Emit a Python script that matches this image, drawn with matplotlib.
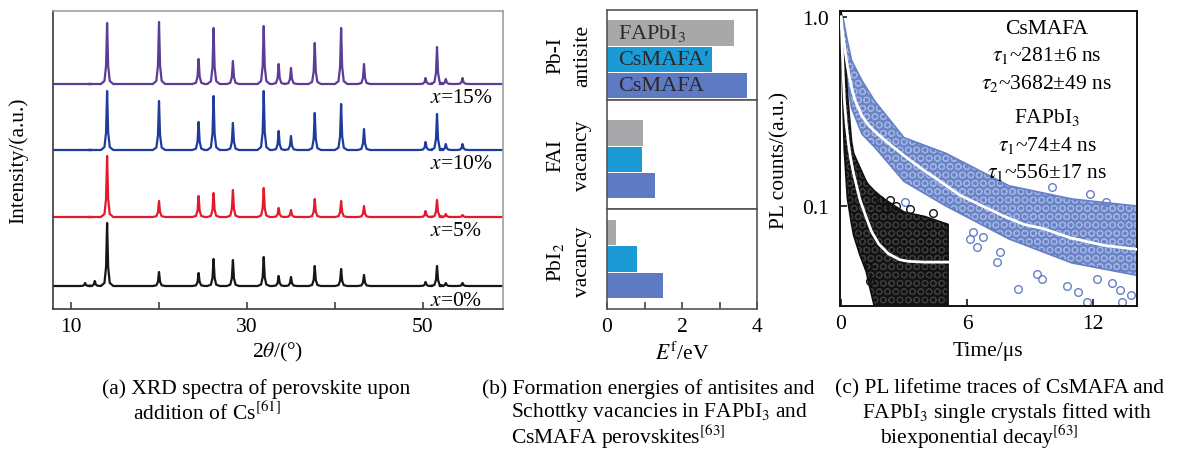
import numpy as np
import matplotlib
matplotlib.use("Agg")
import matplotlib.pyplot as plt
from matplotlib.ticker import FixedLocator, NullLocator, NullFormatter

plt.rcParams['font.family'] = ['Liberation Serif', 'DejaVu Serif']
plt.rcParams['mathtext.fontset'] = 'stix'
plt.rcParams['hatch.linewidth'] = 0.8

# ======================= DATA =======================
# (a) XRD spectra: peak positions (2theta) and peak heights per Cs content
xrd_peaks = [11.6, 12.7, 14.1, 20.0, 24.5, 26.2, 28.4, 31.9, 33.6, 35.0,
             37.7, 40.7, 43.3, 50.3, 51.6, 52.6, 54.5]
xrd_h_0 = [3, 5, 63, 14, 13, 27, 26, 29, 10, 9, 20, 17, 11, 4, 20, 3, 3]
xrd_h_5 = [0, 0, 61, 16, 21, 24, 27, 29, 9, 7, 18, 16, 11, 6, 17, 3, 2]
xrd_h_10 = [0, 0, 59, 49, 28, 54, 27, 59, 19, 14, 37, 46, 21, 8, 36, 6, 6]
xrd_h_15 = [0, 0, 61, 62, 25, 56, 23, 58, 20, 16, 41, 56, 20, 6, 37, 5, 6]
xrd_offsets = [23, 92, 159, 225]
xrd_labels = ['$x$=0%', '$x$=5%', '$x$=10%', '$x$=15%']
xrd_xrange = [7.95, 59.1]

# (b) formation energies (eV)
defect_top = ['Pb-I', 'FAI', 'PbI$_2$']
defect_bottom = ['antisite', 'vacancy', 'vacancy']
materials = ['FAPbI$_3$', 'CsMAFA\u2032', 'CsMAFA']
ef_fapbi3 = [3.38, 0.95, 0.24]
ef_csmafa_p = [2.81, 0.92, 0.80]
ef_csmafa = [3.73, 1.29, 1.50]

# (c) PL decay: fitted curves
csmafa_fit_t = [0, 0.05, 0.1, 0.2, 0.32, 0.5, 0.67, 1.0, 1.3, 1.62, 2.3, 3.19,
                4.0, 4.56, 5.67, 6.5, 7.7, 8.7, 9.63, 10.9, 12.5, 14.1]
csmafa_fit_y = [1.0, 0.89, 0.80, 0.654, 0.534, 0.423, 0.362, 0.299, 0.269, 0.247,
                0.213, 0.178, 0.153, 0.139, 0.114, 0.103, 0.089, 0.080, 0.076,
                0.068, 0.062, 0.059]
fapbi3_fit_t = [0, 0.03, 0.06, 0.1, 0.16, 0.25, 0.35, 0.45, 0.6, 0.9, 1.2, 1.46,
                1.8, 2.25, 2.8, 3.2, 4.0, 5.1]
fapbi3_fit_y = [1.0, 0.82, 0.66, 0.50, 0.36, 0.27, 0.215, 0.18, 0.148, 0.108,
                0.087, 0.073, 0.063, 0.056, 0.052, 0.051, 0.0505, 0.0505]
# extent of the measured point clouds (upper / lower envelope)
csmafa_band_t = [0, 0.1, 0.3, 0.5, 1.0, 1.6, 3.0, 5.0, 8.0, 11.0, 14.1]
csmafa_band_hi = [1.06, 0.98, 0.75, 0.59, 0.46, 0.36, 0.23, 0.19, 0.128, 0.109, 0.10]
csmafa_band_lo = [0.95, 0.68, 0.45, 0.33, 0.24, 0.205, 0.135, 0.10, 0.067, 0.05, 0.043]
fapbi3_band_t = [0, 0.05, 0.15, 0.3, 0.5, 0.6, 0.9, 1.2, 1.3, 1.6, 2.0, 3.0, 4.0, 5.1]
fapbi3_band_hi = [1.06, 0.95, 0.75, 0.40, 0.22, 0.19, 0.16, 0.135, 0.13, 0.12, 0.11, 0.093, 0.088, 0.08]
fapbi3_band_lo = [0.9, 0.5, 0.2, 0.11, 0.08, 0.07, 0.055, 0.045, 0.04, 0.029, 0.029, 0.029, 0.029, 0.029]
# isolated outlying points
csmafa_out_t = [3.05, 3.6, 6.14, 6.3, 6.46, 6.78, 7.41, 7.57, 8.43, 9.32, 9.56,
                10.04, 10.75, 11.3, 11.7, 11.86, 12.2, 12.6, 13.29, 13.37, 13.8, 12.9]
csmafa_out_y = [0.105, 0.079, 0.067, 0.073, 0.061, 0.069, 0.0505, 0.057, 0.0364,
                0.0436, 0.041, 0.126, 0.0378, 0.035, 0.031, 0.116, 0.041, 0.105,
                0.036, 0.031, 0.034, 0.039]
fapbi3_out_t = [1.86, 2.33, 1.29, 1.38, 2.1, 2.6, 3.3, 4.4]
fapbi3_out_y = [0.107, 0.107, 0.048, 0.040, 0.098, 0.1, 0.097, 0.092]

# ======================= FIGURE =======================
W, H = 1184, 464
fig = plt.figure(figsize=(W / 100, H / 100), dpi=100)


def ax_px(l, t, r, b):
    return fig.add_axes([l / W, 1 - b / H, (r - l) / W, (b - t) / H])


def ftext(x, y, s, **kw):
    return fig.text(x / W, 1 - y / H, s, **kw)


FS = 15.5

# ---------------- (a) ----------------
axa = ax_px(53, 12, 503, 310)
prof_dx = [-0.7, -0.3, -0.12, 0, 0.12, 0.3, 0.7]
prof_f = [0, 0.05, 0.3, 1, 0.3, 0.05, 0]
colors_a = ['#161616', '#e5192d', '#1f3b9e', '#5a3d97']
for heights, base, col in zip([xrd_h_0, xrd_h_5, xrd_h_10, xrd_h_15], xrd_offsets, colors_a):
    xs = [xrd_xrange[0]]
    ys = [base]
    for p, h in zip(xrd_peaks, heights):
        for d, f in zip(prof_dx, prof_f):
            xs.append(p + d)
            ys.append(base + h * f)
    xs.append(xrd_xrange[1])
    ys.append(base)
    axa.plot(xs, ys, color=col, lw=1.6, solid_joinstyle='round')
for lab, base in zip(xrd_labels, xrd_offsets):
    axa.text(50.8, base - 14, lab, fontsize=FS, ha='left', va='center')
axa.set_xlim(xrd_xrange)
axa.set_ylim(0, 298)
axa.set_yticks([])
axa.xaxis.set_major_locator(FixedLocator([10, 30, 50]))
axa.xaxis.set_minor_locator(FixedLocator([20, 40]))
axa.tick_params(axis='x', which='both', direction='in', length=5, width=1.1,
                labelsize=FS, pad=6, color='#333333')
for s in ['left', 'bottom']:
    axa.spines[s].set_color('#3a3a3a')
    axa.spines[s].set_linewidth(1.2)
for s in ['top', 'right']:
    axa.spines[s].set_color('#a0a0a0')
    axa.spines[s].set_linewidth(1.2)
ftext(18, 161, 'Intensity/(a.u.)', fontsize=FS, rotation=90, ha='center', va='center')
ftext(278, 352, r'2$\theta$/(°)', fontsize=FS, ha='center', va='center')

# ---------------- (b) ----------------
sections = [(11, 101, (-0.54, 2.87)), (101, 210, (-0.88, 3.25)), (210, 310, (-0.89, 2.9))]
bar_cols = ['#a8a8aa', '#1b9ad6', '#5e7ac5']
centers_y = [56, 156, 262]
for i, (t, b, yl) in enumerate(sections):
    ax = ax_px(607, t, 757, b)
    vals = [ef_fapbi3[i], ef_csmafa_p[i], ef_csmafa[i]]
    ax.barh([2, 1, 0], vals, height=0.96, color=bar_cols, edgecolor='none')
    ax.set_xlim(0, 4)
    ax.set_ylim(*yl)
    ax.set_yticks([])
    for s in ax.spines.values():
        s.set_color('#555555')
        s.set_linewidth(1.2)
    ax.xaxis.set_major_locator(FixedLocator([0, 2, 4]))
    ax.xaxis.set_minor_locator(FixedLocator([1, 3]))
    if i < 2:
        ax.tick_params(axis='x', which='both', bottom=False, labelbottom=False)
    else:
        ax.tick_params(axis='x', which='both', direction='in', length=5, width=1.1,
                       labelsize=FS, pad=6, color='#333333')
    if i == 0:
        for yy, name in zip([2, 1, 0], materials):
            ax.text(0.3, yy, name, fontsize=16, color='#2a2a2a', ha='left', va='center')
    ftext(556, centers_y[i], defect_top[i], fontsize=FS, rotation=90, ha='center', va='center')
    ftext(583, centers_y[i], defect_bottom[i], fontsize=FS, rotation=90, ha='center', va='center')
ftext(682, 354, r'$E^{\mathrm{f}}$/eV', fontsize=FS, ha='center', va='center')

# ---------------- (c) ----------------
axc = ax_px(840, 12, 1137, 307)
axc.set_yscale('log')
blue = '#6680c6'
# CsMAFA point cloud: dense band of open circles
axc.fill_between(csmafa_band_t, csmafa_band_lo, csmafa_band_hi, facecolor='#6983c7',
                 edgecolor='none', lw=0, zorder=1)
axc.fill_between(csmafa_band_t, csmafa_band_lo, csmafa_band_hi, facecolor='none',
                 edgecolor='#a3b3e1', hatch='OO', lw=0, zorder=1.1)
axc.fill_between(csmafa_band_t, csmafa_band_lo, csmafa_band_hi, facecolor='none',
                 edgecolor=blue, lw=1.2, zorder=1.15)
axc.plot(csmafa_out_t, csmafa_out_y, 'o', mfc='none', mec=blue, ms=5.5, mew=1.0, zorder=1.2)
# FAPbI3 point cloud
axc.fill_between(fapbi3_band_t, fapbi3_band_lo, fapbi3_band_hi, facecolor='#121212',
                 edgecolor='none', lw=0, zorder=2)
axc.fill_between(fapbi3_band_t, fapbi3_band_lo, fapbi3_band_hi, facecolor='none',
                 edgecolor='#3c3c3c', hatch='OO', lw=0, zorder=2.1)
axc.fill_between(fapbi3_band_t, fapbi3_band_lo, fapbi3_band_hi, facecolor='none',
                 edgecolor='#111111', lw=1.2, zorder=2.15)
axc.plot(fapbi3_out_t, fapbi3_out_y, 'o', mfc='none', mec='#111111', ms=5.5, mew=1.0, zorder=2.2)
axc.plot(csmafa_fit_t, csmafa_fit_y, color='white', lw=2.0, zorder=3)
axc.plot(fapbi3_fit_t, fapbi3_fit_y, color='white', lw=2.0, zorder=3)
axc.set_xlim(-0.05, 14.1)
axc.set_ylim(0.0296, 1.076)
axc.xaxis.set_major_locator(FixedLocator([0, 6, 12]))
axc.xaxis.set_minor_locator(NullLocator())
axc.yaxis.set_major_locator(FixedLocator([0.1, 1.0]))
axc.yaxis.set_minor_locator(NullLocator())
axc.yaxis.set_minor_formatter(NullFormatter())
axc.set_yticklabels(['0.1', '1.0'])
axc.tick_params(which='both', direction='in', length=5, width=1.1, labelsize=FS, pad=6)
axc.tick_params(axis='y', pad=8)
for s in axc.spines.values():
    s.set_color('#111111')
    s.set_linewidth(1.4)
ctext = [(29, 'CsMAFA'), (56, r'$\tau_1$~281±6 ns'), (83, r'$\tau_2$~3682±49 ns'),
         (118, 'FAPbI$_3$'), (146, r'$\tau_1$~74±4 ns'), (173, r'$\tau_1$~556±17 ns')]
for y, s in ctext:
    ftext(1047, y, s, fontsize=FS, ha='center', va='center', zorder=5)
ftext(780, 160, 'PL counts/(a.u.)', fontsize=FS, rotation=90, ha='center', va='center')
ftext(988, 352, 'Time/μs', fontsize=FS, ha='center', va='center')

# ---------------- captions ----------------
caps = [(102, 389, '(a) XRD spectra of perovskite upon'),
        (133, 413, 'addition of Cs$^{[61]}$'),
        (482, 389, '(b) Formation energies of antisites and'),
        (511, 413, 'Schottky vacancies in FAPbI$_3$ and'),
        (511, 437, 'CsMAFA perovskites$^{[63]}$'),
        (835, 389, '(c) PL lifetime traces of CsMAFA and'),
        (862, 413, 'FAPbI$_3$ single crystals fitted with'),
        (880, 437, 'biexponential decay$^{[63]}$')]
for x, y, s in caps:
    ftext(x, y, s, fontsize=FS, ha='left', va='center')

fig.savefig('out.png', dpi=100)
